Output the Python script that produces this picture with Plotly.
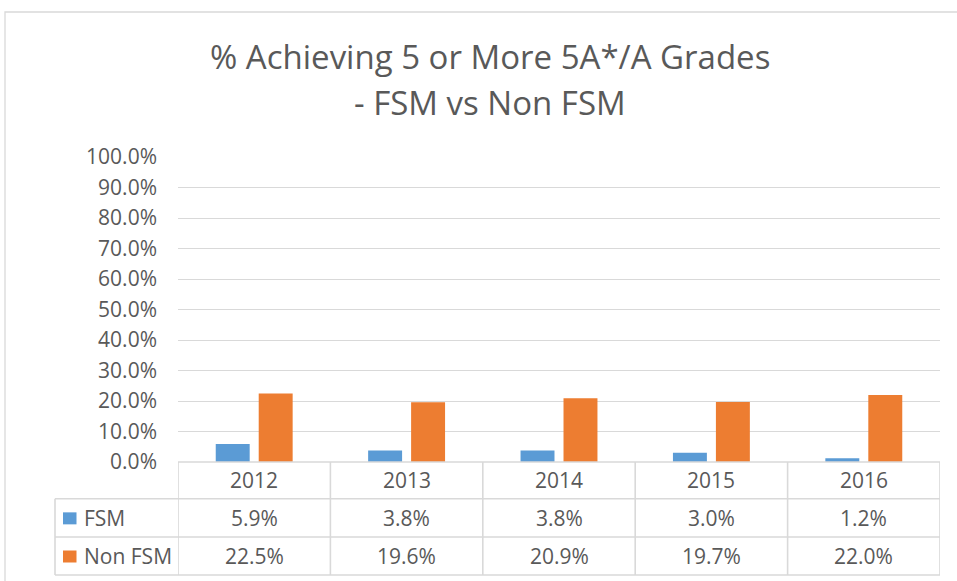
import plotly.graph_objects as go

years = ["2012", "2013", "2014", "2015", "2016"]
fsm = [0.059, 0.038, 0.038, 0.030, 0.012]
non_fsm = [0.225, 0.196, 0.209, 0.197, 0.220]
series_names = ["FSM", "Non FSM"]
title_lines = ["% Achieving 5 or More 5A*/A Grades", "- FSM vs Non FSM"]

W, H = 957, 581
FONT = "Open Sans"
TXT = "#595959"
GRID = "#D9D9D9"
COLORS = ["#5B9BD5", "#ED7D31"]

def px(x):
    return x / W

def py(y):
    return 1 - y / H

fig = go.Figure()
for name, vals, col in zip(series_names, [fsm, non_fsm], COLORS):
    fig.add_trace(go.Bar(x=years, y=vals, name=name, marker=dict(color=col, line=dict(width=0)),
                         showlegend=False, hoverinfo="skip"))

shapes = []
annotations = []
# chart frame
shapes.append(dict(type="rect", xref="paper", yref="paper", x0=px(5), x1=px(970), y0=py(600), y1=py(12),
                   line=dict(color=GRID, width=1.3), fillcolor="rgba(0,0,0,0)", layer="below"))

# table geometry (pixels)
row_y = [462, 498.7, 537, 575]
left_x = 55
LW = 1.6
shapes.append(dict(type="line", xref="x", yref="paper", x0=-0.5, x1=len(years) - 0.5,
                   y0=py(row_y[0]), y1=py(row_y[0]), line=dict(color=GRID, width=LW)))
for yy in row_y[1:]:
    shapes.append(dict(type="line", xref="paper", yref="paper", x0=px(left_x), x1=px(940),
                       y0=py(yy), y1=py(yy), line=dict(color=GRID, width=LW)))
for i in range(len(years) + 1):
    shapes.append(dict(type="line", xref="x", yref="paper", x0=i - 0.5, x1=i - 0.5,
                       y0=py(row_y[0]), y1=py(row_y[3]), line=dict(color=GRID, width=LW)))
shapes.append(dict(type="line", xref="paper", yref="paper", x0=px(left_x), x1=px(left_x),
                   y0=py(row_y[1]), y1=py(row_y[3]), line=dict(color=GRID, width=LW)))

fs = 21
for i, yr in enumerate(years):
    annotations.append(dict(x=i, xref="x", y=py((row_y[0] + row_y[1]) / 2), yref="paper",
                            text=yr, showarrow=False, font=dict(family=FONT, size=fs, color=TXT),
                            xanchor="center", yanchor="middle"))
for r, (name, vals, col) in enumerate(zip(series_names, [fsm, non_fsm], COLORS)):
    yc = (row_y[r + 1] + row_y[r + 2]) / 2
    shapes.append(dict(type="rect", xref="paper", yref="paper", x0=px(63), x1=px(76.5),
                       y0=py(yc + 6.5), y1=py(yc - 5.5), fillcolor=col, line=dict(width=0)))
    annotations.append(dict(x=px(82), xref="paper", y=py(yc), yref="paper", text=name,
                            showarrow=False, font=dict(family=FONT, size=fs, color=TXT),
                            xanchor="left", yanchor="middle"))
    for i, v in enumerate(vals):
        annotations.append(dict(x=i, xref="x", y=py(yc), yref="paper", text=f"{v * 100:.1f}%",
                                showarrow=False, font=dict(family=FONT, size=fs, color=TXT),
                                xanchor="center", yanchor="middle"))

for t, yc in zip(title_lines, [57, 103]):
    annotations.append(dict(x=px(490), xref="paper", y=py(yc), yref="paper", text=t, showarrow=False,
                            font=dict(family=FONT, size=33, color=TXT), xanchor="center", yanchor="middle"))

fig.update_layout(
    template="none",
    width=W, height=H,
    margin=dict(l=0, r=0, t=0, b=0, pad=0, autoexpand=False),
    paper_bgcolor="white", plot_bgcolor="white",
    barmode="group", bargap=0.436, bargroupgap=0.21,
    xaxis=dict(type="category", domain=[px(178), px(940)], showticklabels=False, showgrid=False,
               zeroline=False, showline=False, ticks="", range=[-0.5, len(years) - 0.5],
               automargin=False),
    yaxis=dict(domain=[py(462), py(157)], range=[0, 1], dtick=0.1, tickformat=".1%",
               showgrid=True, gridcolor=GRID, gridwidth=1.3, zeroline=False, showline=False,
               ticks="", ticklabelstandoff=20, automargin=False,
               tickfont=dict(family=FONT, size=fs, color=TXT)),
    shapes=shapes, annotations=annotations,
)

fig.write_html("out.html", config={"displayModeBar": False},
               post_script="document.body.style.margin='0';")
